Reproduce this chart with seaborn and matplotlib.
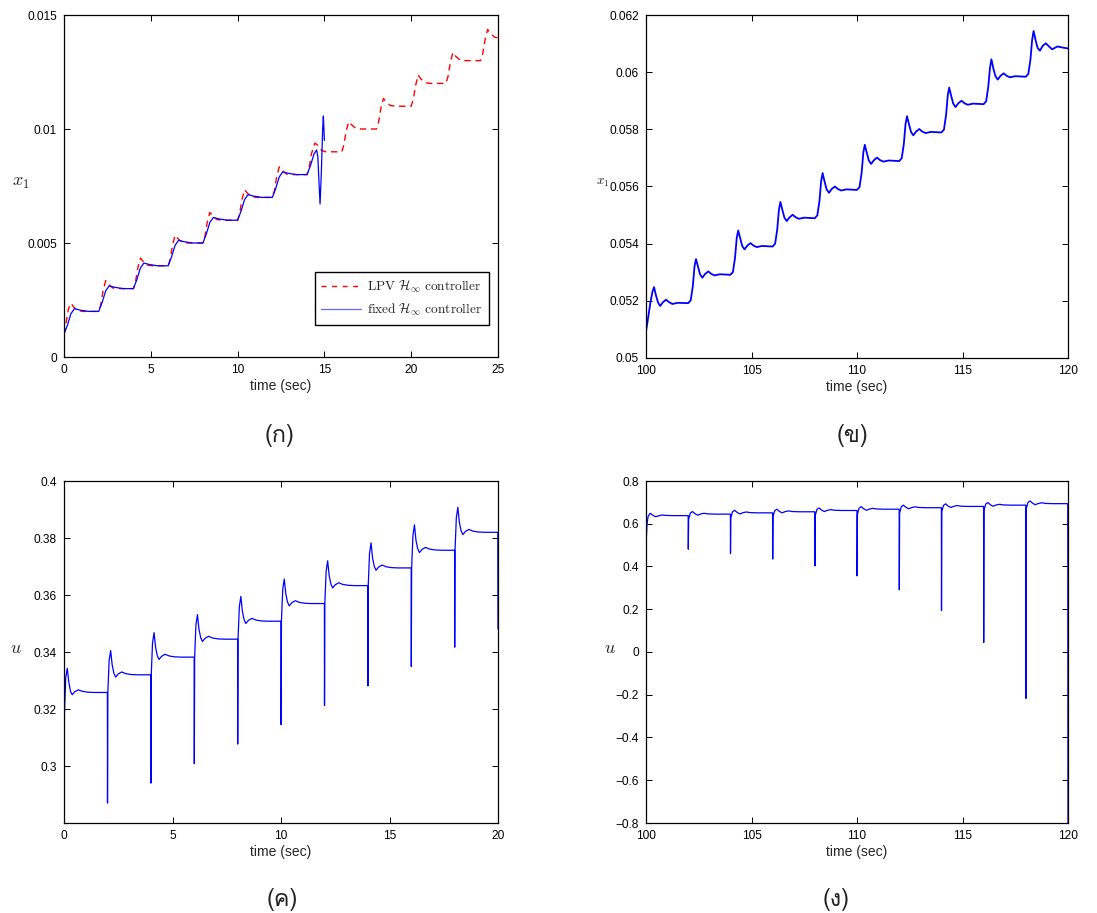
import numpy as np
import pandas as pd
import matplotlib
matplotlib.use("Agg")
import matplotlib.pyplot as plt
import seaborn as sns
from matplotlib import font_manager
from matplotlib.ft2font import FT2Font
from matplotlib.ticker import FuncFormatter

# ---------------- data ----------------
# (a) x1, LPV H-inf controller (red dashed)
A_LPV_T = [0, 0.12, 0.25, 0.4, 0.55, 0.8, 1.1,
           2, 2.12, 2.25, 2.4, 2.55, 2.8, 3.1,
           4, 4.12, 4.25, 4.4, 4.55, 4.8, 5.1,
           6, 6.12, 6.25, 6.4, 6.55, 6.8, 7.1,
           8, 8.12, 8.25, 8.4, 8.55, 8.8, 9.1,
           10, 10.12, 10.25, 10.4, 10.55, 10.8, 11.1,
           12, 12.12, 12.25, 12.4, 12.55, 12.8, 13.1,
           14, 14.12, 14.25, 14.45, 14.6, 14.85, 15.1,
           16, 16.12, 16.25, 16.4, 16.55, 16.8, 17.1,
           18, 18.12, 18.25, 18.4, 18.55, 18.8, 19.1,
           20, 20.12, 20.25, 20.4, 20.55, 20.8, 21.1,
           22, 22.12, 22.25, 22.4, 22.55, 22.8, 23.1,
           24, 24.12, 24.25, 24.4, 24.55, 24.8, 25.0]
A_LPV_X = [0.0010, 0.0015, 0.0021, 0.00236, 0.0022, 0.00203, 0.0020,
           0.0020, 0.0023, 0.0029, 0.00335, 0.0032, 0.00303, 0.0030,
           0.0030, 0.0033, 0.0039, 0.00434, 0.0042, 0.00403, 0.0040,
           0.0040, 0.0043, 0.0049, 0.00534, 0.0052, 0.00503, 0.0050,
           0.0050, 0.0053, 0.0059, 0.00634, 0.0062, 0.00603, 0.0060,
           0.0060, 0.0063, 0.0069, 0.00734, 0.0072, 0.00703, 0.0070,
           0.0070, 0.0073, 0.0079, 0.00834, 0.0082, 0.00803, 0.0080,
           0.0080, 0.0083, 0.0089, 0.00938, 0.0093, 0.00905, 0.0090,
           0.0090, 0.0093, 0.0099, 0.01032, 0.0102, 0.01003, 0.0100,
           0.0100, 0.0103, 0.0109, 0.01134, 0.0112, 0.01103, 0.0110,
           0.0110, 0.0113, 0.0119, 0.01237, 0.0122, 0.01203, 0.0120,
           0.0120, 0.0123, 0.0129, 0.01336, 0.0132, 0.01303, 0.0130,
           0.0130, 0.0133, 0.0139, 0.01437, 0.0142, 0.01403, 0.0140]

# (a) x1, fixed H-inf controller (blue solid)
A_FIX_T = [0, 0.2, 0.4, 0.6, 0.9, 1.4,
           2, 2.2, 2.4, 2.6, 2.9, 3.4,
           4, 4.2, 4.4, 4.6, 4.9, 5.4,
           6, 6.2, 6.4, 6.6, 6.9, 7.4,
           8, 8.2, 8.4, 8.6, 8.9, 9.4,
           10, 10.2, 10.4, 10.6, 10.9, 11.4,
           12, 12.2, 12.4, 12.6, 12.9, 13.4,
           14, 14.2, 14.4, 14.55, 14.62, 14.7, 14.75, 14.82, 14.9, 14.94, 15.0]
A_FIX_X = [0.0010, 0.0014, 0.0019, 0.00212, 0.00206, 0.0020,
           0.0020, 0.0024, 0.0029, 0.00312, 0.00306, 0.0030,
           0.0030, 0.0034, 0.0039, 0.00412, 0.00406, 0.0040,
           0.0040, 0.0044, 0.0049, 0.00512, 0.00506, 0.0050,
           0.0050, 0.0054, 0.0059, 0.00612, 0.00606, 0.0060,
           0.0060, 0.0064, 0.0069, 0.00712, 0.00706, 0.0070,
           0.0070, 0.0074, 0.0079, 0.00812, 0.00806, 0.0080,
           0.0080, 0.0084, 0.0089, 0.00908, 0.0088, 0.0075, 0.00671, 0.0080, 0.0100, 0.01057, 0.0095]

# (b) x1, 100-120 s
B_T = [100.0, 100.1, 100.2, 100.3, 100.38, 100.47, 100.57, 100.67, 100.8, 100.95, 101.1, 101.25, 101.5,
       102.0, 102.12, 102.22, 102.3, 102.37, 102.46, 102.56, 102.67, 102.8, 102.95, 103.1, 103.25, 103.5,
       104.0, 104.12, 104.22, 104.3, 104.37, 104.46, 104.56, 104.67, 104.8, 104.95, 105.1, 105.25, 105.5,
       106.0, 106.12, 106.22, 106.3, 106.37, 106.46, 106.56, 106.67, 106.8, 106.95, 107.1, 107.25, 107.5,
       108.0, 108.12, 108.22, 108.3, 108.37, 108.46, 108.56, 108.67, 108.8, 108.95, 109.1, 109.25, 109.5,
       110.0, 110.12, 110.22, 110.3, 110.37, 110.46, 110.56, 110.67, 110.8, 110.95, 111.1, 111.25, 111.5,
       112.0, 112.12, 112.22, 112.3, 112.37, 112.46, 112.56, 112.67, 112.8, 112.95, 113.1, 113.25, 113.5,
       114.0, 114.12, 114.22, 114.3, 114.37, 114.46, 114.56, 114.67, 114.8, 114.95, 115.1, 115.25, 115.5,
       116.0, 116.12, 116.22, 116.3, 116.37, 116.46, 116.56, 116.67, 116.8, 116.95, 117.1, 117.25, 117.5,
       118.0, 118.12, 118.22, 118.3, 118.37, 118.46, 118.56, 118.67, 118.8, 118.95, 119.1, 119.25, 119.5,
       119.75, 120.0]
B_X = [0.05093, 0.05140, 0.05190, 0.05230, 0.05248, 0.05220, 0.05194, 0.05182, 0.05195, 0.05204, 0.05195, 0.05189, 0.05193,
       0.05192, 0.05202, 0.05252, 0.05321, 0.05346, 0.05321, 0.05293, 0.05281, 0.05294, 0.05303, 0.05294, 0.05289, 0.05293,
       0.05291, 0.05301, 0.05351, 0.05420, 0.05446, 0.05420, 0.05392, 0.05380, 0.05393, 0.05402, 0.05393, 0.05388, 0.05392,
       0.05390, 0.05400, 0.05450, 0.05519, 0.05546, 0.05519, 0.05491, 0.05479, 0.05492, 0.05501, 0.05492, 0.05487, 0.05491,
       0.05489, 0.05499, 0.05549, 0.05618, 0.05647, 0.05618, 0.05590, 0.05578, 0.05591, 0.05600, 0.05591, 0.05586, 0.05590,
       0.05588, 0.05598, 0.05648, 0.05719, 0.05746, 0.05719, 0.05691, 0.05679, 0.05692, 0.05701, 0.05692, 0.05687, 0.05691,
       0.05689, 0.05699, 0.05749, 0.05819, 0.05846, 0.05819, 0.05791, 0.05779, 0.05792, 0.05801, 0.05792, 0.05787, 0.05791,
       0.05789, 0.05799, 0.05849, 0.05918, 0.05946, 0.05918, 0.05890, 0.05878, 0.05891, 0.05900, 0.05891, 0.05886, 0.05890,
       0.05888, 0.05898, 0.05948, 0.06014, 0.06045, 0.06014, 0.05986, 0.05974, 0.05987, 0.05996, 0.05987, 0.05982, 0.05986,
       0.05984, 0.05994, 0.06044, 0.06113, 0.06144, 0.06113, 0.06085, 0.06075, 0.06092, 0.06101, 0.06090, 0.06080, 0.06090,
       0.06086, 0.06083]

# (c) u, 0-20 s
C_T = [0.0, 0.02, 0.08, 0.15, 0.22, 0.30, 0.38, 0.50, 0.66, 0.85, 1.10, 1.40,
       2.0, 2.005, 2.02, 2.08, 2.15, 2.22, 2.30, 2.38, 2.50, 2.66, 2.85, 3.10, 3.40,
       4.0, 4.005, 4.02, 4.08, 4.15, 4.22, 4.30, 4.38, 4.50, 4.66, 4.85, 5.10, 5.40,
       6.0, 6.005, 6.02, 6.08, 6.15, 6.22, 6.30, 6.38, 6.50, 6.66, 6.85, 7.10, 7.40,
       8.0, 8.005, 8.02, 8.08, 8.15, 8.22, 8.30, 8.38, 8.50, 8.66, 8.85, 9.10, 9.40,
       10.0, 10.005, 10.02, 10.08, 10.15, 10.22, 10.30, 10.38, 10.50, 10.66, 10.85, 11.10, 11.40,
       12.0, 12.005, 12.02, 12.08, 12.15, 12.22, 12.30, 12.38, 12.50, 12.66, 12.85, 13.10, 13.40,
       14.0, 14.005, 14.02, 14.08, 14.15, 14.22, 14.30, 14.38, 14.50, 14.66, 14.85, 15.10, 15.40,
       16.0, 16.005, 16.02, 16.08, 16.15, 16.22, 16.30, 16.38, 16.50, 16.66, 16.85, 17.10, 17.40,
       18.0, 18.005, 18.02, 18.08, 18.15, 18.22, 18.30, 18.38, 18.50, 18.66, 18.85, 19.10, 19.40,
       19.99, 20.0]
C_U = [0.272, 0.318, 0.3310, 0.3343, 0.3295, 0.3262, 0.3250, 0.3261, 0.3267, 0.3262, 0.3259, 0.3258,
       0.3258, 0.2870, 0.3258, 0.3370, 0.3405, 0.3355, 0.3325, 0.3312, 0.3323, 0.3330, 0.3324, 0.3321, 0.3320,
       0.3320, 0.2940, 0.3320, 0.3432, 0.3468, 0.3417, 0.3387, 0.3374, 0.3385, 0.3392, 0.3386, 0.3383, 0.3382,
       0.3382, 0.3008, 0.3382, 0.3495, 0.3531, 0.3480, 0.3450, 0.3437, 0.3448, 0.3455, 0.3449, 0.3446, 0.3445,
       0.3445, 0.3077, 0.3445, 0.3558, 0.3595, 0.3543, 0.3513, 0.3500, 0.3511, 0.3518, 0.3512, 0.3509, 0.3508,
       0.3508, 0.3145, 0.3508, 0.3620, 0.3656, 0.3605, 0.3575, 0.3562, 0.3573, 0.3580, 0.3574, 0.3571, 0.3570,
       0.3570, 0.3212, 0.3570, 0.3683, 0.3720, 0.3668, 0.3638, 0.3625, 0.3636, 0.3643, 0.3637, 0.3634, 0.3633,
       0.3633, 0.3281, 0.3633, 0.3746, 0.3783, 0.3730, 0.3700, 0.3687, 0.3698, 0.3705, 0.3699, 0.3696, 0.3695,
       0.3695, 0.3349, 0.3695, 0.3809, 0.3846, 0.3792, 0.3762, 0.3749, 0.3760, 0.3767, 0.3761, 0.3758, 0.3757,
       0.3757, 0.3417, 0.3757, 0.3871, 0.3908, 0.3855, 0.3825, 0.3812, 0.3823, 0.3830, 0.3824, 0.3821, 0.3820,
       0.3820, 0.3481]

# (d) u, 100-120 s
D_T = [100.0, 100.05, 100.1, 100.2, 100.32, 100.45, 100.6, 100.75, 100.95, 101.3,
       102.0, 102.005, 102.02, 102.1, 102.2, 102.32, 102.45, 102.6, 102.75, 102.95, 103.3,
       104.0, 104.005, 104.02, 104.1, 104.2, 104.32, 104.45, 104.6, 104.75, 104.95, 105.3,
       106.0, 106.005, 106.02, 106.1, 106.2, 106.32, 106.45, 106.6, 106.75, 106.95, 107.3,
       108.0, 108.005, 108.02, 108.1, 108.2, 108.32, 108.45, 108.6, 108.75, 108.95, 109.3,
       110.0, 110.005, 110.02, 110.1, 110.2, 110.32, 110.45, 110.6, 110.75, 110.95, 111.3,
       112.0, 112.005, 112.02, 112.1, 112.2, 112.32, 112.45, 112.6, 112.75, 112.95, 113.3,
       114.0, 114.005, 114.02, 114.1, 114.2, 114.32, 114.45, 114.6, 114.75, 114.95, 115.3,
       116.0, 116.005, 116.02, 116.1, 116.2, 116.32, 116.45, 116.6, 116.75, 116.95, 117.3,
       118.0, 118.005, 118.02, 118.1, 118.2, 118.32, 118.45, 118.6, 118.75, 118.95, 119.3,
       119.99, 120.0]
D_U = [0.50, 0.60, 0.635, 0.649, 0.640, 0.633, 0.637, 0.641, 0.639, 0.638,
       0.638, 0.481, 0.620, 0.650, 0.657, 0.647, 0.640, 0.646, 0.649, 0.646, 0.645,
       0.645, 0.462, 0.627, 0.656, 0.663, 0.653, 0.646, 0.652, 0.655, 0.652, 0.651,
       0.651, 0.435, 0.633, 0.661, 0.668, 0.658, 0.651, 0.657, 0.660, 0.657, 0.656,
       0.656, 0.403, 0.638, 0.667, 0.674, 0.664, 0.657, 0.663, 0.666, 0.663, 0.662,
       0.662, 0.356, 0.644, 0.673, 0.680, 0.670, 0.663, 0.669, 0.672, 0.669, 0.668,
       0.668, 0.291, 0.650, 0.680, 0.687, 0.677, 0.670, 0.676, 0.679, 0.676, 0.675,
       0.675, 0.194, 0.657, 0.686, 0.693, 0.683, 0.676, 0.682, 0.685, 0.682, 0.681,
       0.681, 0.045, 0.663, 0.692, 0.699, 0.689, 0.682, 0.688, 0.691, 0.688, 0.687,
       0.687, -0.217, 0.669, 0.699, 0.707, 0.696, 0.689, 0.695, 0.698, 0.695, 0.694,
       0.694, -0.80]

LEGEND_LABELS = [r"$\mathrm{LPV}\ \mathcal{H}_{\infty}\ \mathrm{controller}$",
                 r"$\mathrm{fixed}\ \mathcal{H}_{\infty}\ \mathrm{controller}$"]
CAPTIONS = ["(ก)", "(ข)", "(ค)", "(ง)"]
XLABEL = "time (sec)"

# ---------------- style ----------------
sns.set_theme(style="ticks")
plt.rcParams["font.family"] = ["Liberation Sans", "DejaVu Sans"]
plt.rcParams["mathtext.fontset"] = "cm"
plt.rcParams["xtick.direction"] = "in"
plt.rcParams["ytick.direction"] = "in"
plt.rcParams["xtick.top"] = True
plt.rcParams["ytick.right"] = True


def thai_font():
    for f in font_manager.fontManager.ttflist:
        try:
            cm = FT2Font(f.fname).get_charmap()
            if 0x0E01 in cm and 0x0E02 in cm and 0x0E07 in cm:
                return f.name
        except Exception:
            continue
    return None


TH = thai_font()
cap_family = [TH, "DejaVu Sans"] if TH else ["DejaVu Sans"]

W, H = 1097, 913
fig = plt.figure(figsize=(W / 100, H / 100), dpi=100)
fig.patch.set_facecolor("white")


def px_axes(l, t, r, b):
    return fig.add_axes([l / W, 1 - b / H, (r - l) / W, (b - t) / H])


def style(ax):
    for s in ax.spines.values():
        s.set_visible(True)
        s.set_color("black")
        s.set_linewidth(0.9)
    ax.tick_params(axis="both", which="major", length=4.5, width=0.7,
                   labelsize=8.6, colors="black", pad=5)
    ax.set_facecolor("white")
    ax.grid(False)


fmt = FuncFormatter(lambda v, p: ("%g" % round(v, 6)).replace("-", "\u2212"))

# (a)
axA = px_axes(64, 15, 498, 357)
dA1 = pd.DataFrame({"t": A_LPV_T, "x": A_LPV_X})
dA2 = pd.DataFrame({"t": A_FIX_T, "x": A_FIX_X})
sns.lineplot(data=dA1, x="t", y="x", ax=axA, color="#ff0000", lw=1.0, sort=False,
             estimator=None, label=LEGEND_LABELS[0], dashes=False)
axA.lines[-1].set_dashes([4.6, 3.4])
sns.lineplot(data=dA2, x="t", y="x", ax=axA, color="#0000ff", lw=0.9, sort=False,
             estimator=None, label=LEGEND_LABELS[1])
axA.set_xlim(0, 25)
axA.set_ylim(0, 0.015)
axA.set_xticks([0, 5, 10, 15, 20, 25])
axA.set_yticks([0, 0.005, 0.01, 0.015])
leg = axA.legend(loc="lower right", bbox_to_anchor=(0.979, 0.094), borderaxespad=0,
                 fontsize=9.6, handlelength=3.0, labelspacing=0.55, handletextpad=0.45,
                 borderpad=0.5, fancybox=False, framealpha=1, edgecolor="black")
leg.get_frame().set_linewidth(1.0)
leg.legend_handles[0].set_dashes([3.6, 4.0])
leg.legend_handles[1].set_alpha(0.6)
axA.set_ylabel(r"$x_1$", fontsize=13, rotation=0)
axA.yaxis.set_label_coords(-0.10, 0.51)

# (b)
axB = px_axes(646, 15, 1068, 358)
sns.lineplot(data=pd.DataFrame({"t": B_T, "x": B_X}), x="t", y="x", ax=axB,
             color="#0000ff", lw=1.3, sort=False, estimator=None)
axB.set_xlim(100, 120)
axB.set_ylim(0.05, 0.062)
axB.set_xticks([100, 105, 110, 115, 120])
axB.set_yticks([0.05, 0.052, 0.054, 0.056, 0.058, 0.06, 0.062])
axB.set_ylabel(r"$x_1$", fontsize=9.5, rotation=0)
axB.yaxis.set_label_coords(-0.102, 0.51)

# (c)
axC = px_axes(64, 481, 498, 823)
sns.lineplot(data=pd.DataFrame({"t": C_T, "u": C_U}), x="t", y="u", ax=axC,
             color="#0000ff", lw=0.9, sort=False, estimator=None)
axC.set_xlim(0, 20)
axC.set_ylim(0.28, 0.4)
axC.set_xticks([0, 5, 10, 15, 20])
axC.set_yticks([0.3, 0.32, 0.34, 0.36, 0.38, 0.4])
axC.set_ylabel(r"$u$", fontsize=13, rotation=0)
axC.yaxis.set_label_coords(-0.11, 0.51)

# (d)
axD = px_axes(646, 481, 1068, 823)
sns.lineplot(data=pd.DataFrame({"t": D_T, "u": D_U}), x="t", y="u", ax=axD,
             color="#0000ff", lw=0.9, sort=False, estimator=None)
axD.set_xlim(100, 120)
axD.set_ylim(-0.8, 0.8)
axD.set_xticks([100, 105, 110, 115, 120])
axD.set_yticks([-0.8, -0.6, -0.4, -0.2, 0, 0.2, 0.4, 0.6, 0.8])
axD.set_ylabel(r"$u$", fontsize=13, rotation=0)
axD.yaxis.set_label_coords(-0.085, 0.51)

for ax in (axA, axB, axC, axD):
    style(ax)
    ax.xaxis.set_major_formatter(fmt)
    ax.yaxis.set_major_formatter(fmt)
    ax.set_xlabel(XLABEL, fontsize=10, labelpad=2)
    ax.yaxis.label.set_va("center")
    ax.yaxis.label.set_ha("center")

cap_pos = [(280, 435), (852, 435), (282, 899), (836, 899)]
for (cx, cy), txt in zip(cap_pos, CAPTIONS):
    fig.text(cx / W, 1 - cy / H, txt, ha="center", va="center", fontsize=17,
             family=cap_family, color="#222222")

fig.savefig("out.png", dpi=100, facecolor="white")
